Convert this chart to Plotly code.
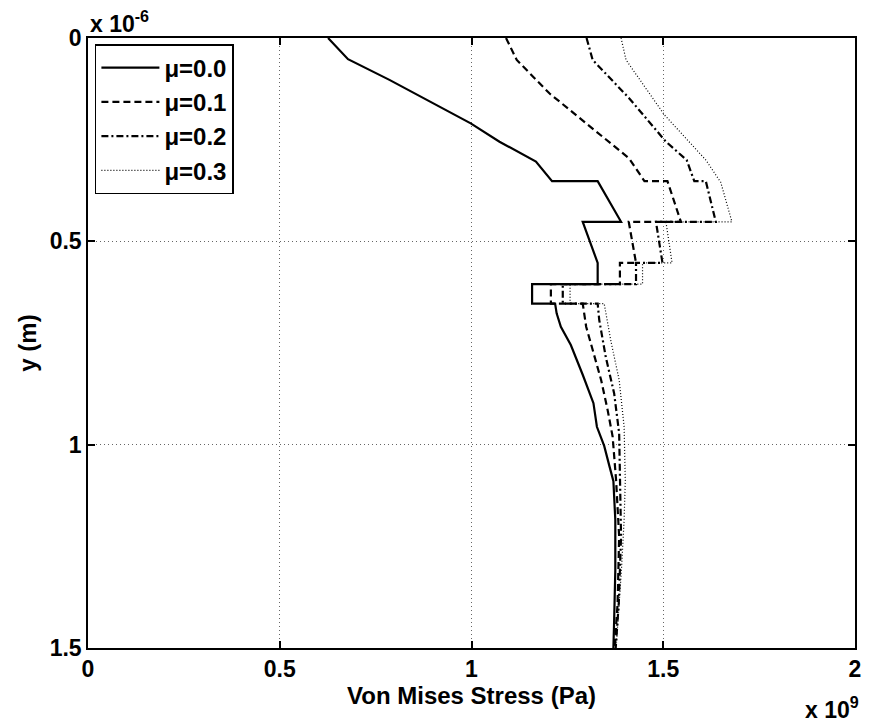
import plotly.graph_objects as go

# Von Mises stress (x 1e9 Pa) versus depth y (x 1e-6 m) for four friction coefficients
labels = ["μ=0.0", "μ=0.1", "μ=0.2", "μ=0.3"]

y_mu00 = [0.000, 0.052, 0.103, 0.157, 0.210, 0.255, 0.304, 0.352, 0.352, 0.452, 0.452,
          0.553, 0.605, 0.605, 0.653, 0.653, 0.677, 0.710, 0.755, 0.828, 0.898, 0.956,
          1.003, 1.054, 1.090, 1.185, 1.308, 1.431, 1.500]
s_mu00 = [0.626, 0.678, 0.786, 0.891, 0.998, 1.073, 1.168, 1.210, 1.329, 1.390, 1.290,
          1.329, 1.329, 1.158, 1.158, 1.218, 1.222, 1.233, 1.259, 1.290, 1.318, 1.327,
          1.346, 1.360, 1.370, 1.375, 1.375, 1.372, 1.370]

y_mu01 = [0.000, 0.054, 0.136, 0.210, 0.296, 0.352, 0.352, 0.452, 0.452, 0.553, 0.553,
          0.605, 0.605, 0.653, 0.653, 0.710, 0.767, 0.841, 0.915, 0.980, 1.087, 1.226,
          1.390, 1.500]
s_mu01 = [1.090, 1.118, 1.203, 1.299, 1.411, 1.451, 1.511, 1.546, 1.410, 1.429, 1.387,
          1.387, 1.207, 1.207, 1.290, 1.299, 1.316, 1.338, 1.355, 1.368, 1.377, 1.385,
          1.381, 1.373]

y_mu02 = [0.000, 0.054, 0.148, 0.255, 0.300, 0.352, 0.352, 0.452, 0.452, 0.553, 0.553,
          0.605, 0.605, 0.653, 0.653, 0.693, 0.784, 0.874, 0.972, 1.087, 1.226, 1.390,
          1.500]
s_mu02 = [1.300, 1.316, 1.411, 1.507, 1.561, 1.581, 1.611, 1.637, 1.481, 1.498, 1.429,
          1.429, 1.238, 1.238, 1.329, 1.333, 1.350, 1.372, 1.385, 1.388, 1.390, 1.384,
          1.376]

y_mu03 = [0.000, 0.054, 0.189, 0.300, 0.355, 0.452, 0.452, 0.553, 0.553, 0.605, 0.605,
          0.653, 0.653, 0.743, 0.841, 0.956, 1.087, 1.185, 1.308, 1.431, 1.500]
s_mu03 = [1.390, 1.403, 1.503, 1.611, 1.650, 1.679, 1.507, 1.523, 1.446, 1.446, 1.257,
          1.257, 1.346, 1.363, 1.385, 1.398, 1.401, 1.398, 1.391, 1.383, 1.377]

x_ticks = [0, 0.5, 1, 1.5, 2]
x_tick_text = ["0", "0.5", "1", "1.5", "2"]
y_ticks = [0, 0.5, 1, 1.5]
y_tick_text = ["0", "0.5", "1", "1.5"]

series = [
    (s_mu00, y_mu00, dict(color="black", width=2.2, dash="solid")),
    (s_mu01, y_mu01, dict(color="black", width=2.2, dash="7px,4px")),
    (s_mu02, y_mu02, dict(color="black", width=2.2, dash="7px,3px,2px,3px")),
    (s_mu03, y_mu03, dict(color="black", width=1.2, dash="1px,2px")),
]

FONT = "Liberation Sans, Arial, sans-serif"

fig = go.Figure()
for (sx, sy, line), name in zip(series, labels):
    fig.add_trace(go.Scatter(x=sx, y=sy, mode="lines", name=name, line=line))

axis_common = dict(
    showline=True, linecolor="black", linewidth=1.5, mirror="ticks",
    ticks="inside", ticklen=7, tickcolor="black", tickwidth=1.5,
    showgrid=True, gridcolor="#666666", gridwidth=1, griddash="1px,3px",
    zeroline=False,
    tickfont=dict(family=FONT, size=23, color="black", weight="bold"),
)

fig.update_xaxes(
    range=[0, 2], tickvals=x_ticks, ticktext=x_tick_text,
    title=dict(text="Von Mises Stress (Pa)", standoff=0,
               font=dict(family=FONT, size=24, color="black", weight="bold")),
    **axis_common,
)
fig.update_yaxes(
    range=[1.5, 0], tickvals=y_ticks, ticktext=y_tick_text,
    title=dict(text="y (m)", standoff=6,
               font=dict(family=FONT, size=24, color="black", weight="bold")),
    **axis_common,
)

fig.add_annotation(
    text="x 10<sup>-6</sup>", xref="paper", yref="paper", x=0, y=1,
    xanchor="left", yanchor="bottom", showarrow=False, yshift=-1,
    font=dict(family=FONT, size=23, color="black", weight="bold"),
)
fig.add_annotation(
    text="x 10<sup>9</sup>", xref="paper", yref="paper", x=1.008, y=0,
    xanchor="right", yanchor="top", showarrow=False, yshift=-43,
    font=dict(family=FONT, size=23, color="black", weight="bold"),
)

fig.update_layout(
    width=873, height=722,
    margin=dict(l=88, r=16, t=38, b=74),
    paper_bgcolor="white", plot_bgcolor="white",
    showlegend=True,
    legend=dict(
        x=0.009, y=0.99, xanchor="left", yanchor="top",
        bgcolor="white", bordercolor="black", borderwidth=1.5,
        font=dict(family=FONT, size=24, color="black", weight="bold"),
        tracegroupgap=0, itemwidth=58,
    ),
)

fig.write_html("out.html")
